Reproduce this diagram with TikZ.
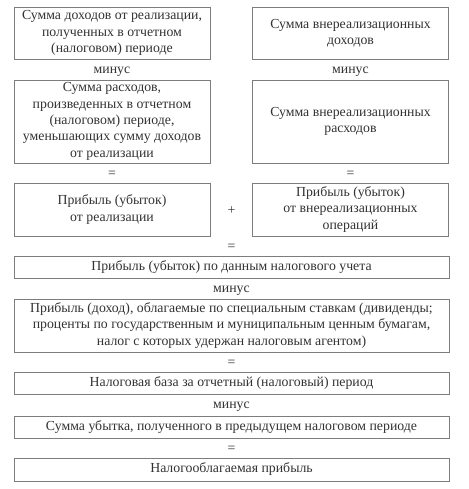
\documentclass[tikz,border=0pt]{standalone}
\usepackage{fontspec}
\setmainfont{Liberation Serif}
\usetikzlibrary{positioning}
\definecolor{ink}{RGB}{50,50,50}
\definecolor{frame}{RGB}{125,125,125}

\begin{document}
\begin{tikzpicture}[x=1pt, y=-1pt,
  half/.style={rectangle, draw=frame, line width=0.8pt, text=ink,
               font=\fontsize{13.8}{16.3}\selectfont, minimum width=196pt,
               minimum height=#1, align=center, inner sep=1pt},
  wide/.style={rectangle, draw=frame, line width=0.8pt, text=ink,
               font=\fontsize{13.8}{16.3}\selectfont, minimum width=435pt,
               minimum height=#1, align=center, inner sep=1pt},
  op/.style={text=ink, font=\fontsize{13.8}{16.3}\selectfont, inner sep=0pt},
]
\useasboundingbox (0,0) rectangle (468,489);

% left column
\node[half=52pt] (incl) at (112, 33)
    {Сумма доходов от реализации,\\ полученных в отчетном\\ (налоговом) периоде};
\node[op] (m1) at (112, 72) {минус};
\node[half=83pt] (expl) at (112, 121.5)
    {Сумма расходов,\\ произведенных в отчетном\\ (налоговом) периоде,\\
     уменьшающих сумму доходов\\ от реализации};
\node[op] (e1) at (112, 174) {=};
\node[half=53pt] (profl) at (112, 209.5) {Прибыль (убыток)\\ от реализации};

% right column
\node[half=52pt] (incr) at (350.5, 33) {Сумма внереализационных\\ доходов};
\node[op] (m2) at (350.5, 72) {минус};
\node[half=83pt] (expr) at (350.5, 121.5) {Сумма внереализационных\\ расходов};
\node[op] (e2) at (350.5, 174) {=};
\node[half=53pt] (profr) at (350.5, 209.5)
    {Прибыль (убыток)\\ от внереализационных\\ операций};

\node[op] (plus) at (231.5, 211) {+};

% full width chain
\node[op] (e3) at (231.5, 247) {=};
\node[wide=22pt] (taxp) at (231.5, 267) {Прибыль (убыток) по данным налогового учета};
\node[op] (m3) at (231.5, 291) {минус};
\node[wide=53pt] (spec) at (231.5, 325.5)
    {Прибыль (доход), облагаемые по специальным ставкам (дивиденды;\\
     проценты по государственным и муниципальным ценным бумагам,\\
     налог с которых удержан налоговым агентом)};
\node[op] (e4) at (231.5, 363) {=};
\node[wide=22pt] (base) at (231.5, 383) {Налоговая база за отчетный (налоговый) период};
\node[op] (m4) at (231.5, 407) {минус};
\node[wide=22pt] (loss) at (231.5, 427) {Сумма убытка, полученного в предыдущем налоговом периоде};
\node[op] (e5) at (231.5, 449) {=};
\node[wide=23pt] (taxbl) at (231.5, 469.5) {Налогооблагаемая прибыль};
\end{tikzpicture}
\end{document}
